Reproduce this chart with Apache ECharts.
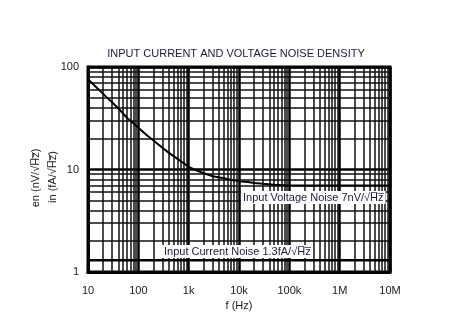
<!DOCTYPE html>
<html><head><meta charset="utf-8">
<script src="https://cdn.jsdelivr.net/npm/echarts@6/dist/echarts.min.js"></script>
<style>html,body{margin:0;padding:0;background:#fff}#c{width:472px;height:329px}</style>
</head><body><div id="c"></div>
<script>
const title = 'INPUT CURRENT AND VOLTAGE NOISE DENSITY';
const xTickLabels = {10:'10',100:'100',1000:'1k',10000:'10k',100000:'100k',1000000:'1M',10000000:'10M'};
const voltFreq = [10, 15, 20, 30, 40, 60, 80, 100, 150, 200, 300, 400, 600, 800, 1000, 1500, 2000, 3000, 5000, 7000, 10000, 15000, 20000, 30000, 50000, 100000, 10000000];
const voltNoise = [76, 62.7, 54.7, 45.2, 39.6, 31.8, 28.3, 25.6, 21.5, 19.2, 16.3, 14.6, 12.7, 11.5, 10.6, 9.7, 9.2, 8.6, 8.2, 7.9, 7.7, 7.55, 7.4, 7.25, 7.1, 7.0, 7.0];
const currFreq = [10, 10000000];
const currNoise = [1.3, 1.3];
const voltLabel = 'Input Voltage Noise 7nV/\u221AH\u0305z\u0305';
const currLabel = 'Input Current Noise 1.3fA/\u221AH\u0305z\u0305';
const yNameEn = 'en (nV/\u221AH\u0305z\u0305)';
const yNameIn = 'in (fA/\u221AH\u0305z\u0305)';

const xMinor = [], yMinor = [];
for (let d = 10; d < 1e7; d *= 10) for (let k = 2; k <= 9; k++) xMinor.push(d * k);
for (let d = 1; d < 100; d *= 10) for (let k = 2; k <= 9; k++) yMinor.push(d * k);

const font = '"Liberation Sans", Arial, sans-serif';
const chart = echarts.init(document.getElementById('c'), null, {renderer: 'canvas'});
chart.setOption({
  animation: false,
  title: {text: title, left: 'center', top: 43, textStyle: {fontFamily: font, fontSize: 11, fontWeight: 'normal', color: '#1a1a40'}},
  grid: {left: 88, right: 82, top: 67, bottom: 57, show: true, borderColor: '#000', borderWidth: 3, backgroundColor: 'transparent'},
  xAxis: {
    type: 'log', logBase: 10, min: 10, max: 1e7,
    name: 'f (Hz)', nameLocation: 'middle', nameGap: 27,
    nameTextStyle: {fontFamily: font, fontSize: 11, color: '#202020'},
    axisLine: {show: true, lineStyle: {color: '#000', width: 3}},
    axisTick: {show: false},
    axisLabel: {fontFamily: font, fontSize: 11, color: '#202020', margin: 13, formatter: v => xTickLabels[Math.round(v)] || ''},
    splitLine: {show: true, lineStyle: {color: '#000', width: 2.5}}
  },
  yAxis: {
    type: 'log', logBase: 10, min: 1, max: 100,
    axisLine: {show: true, lineStyle: {color: '#000', width: 3}},
    axisTick: {show: false},
    axisLabel: {fontFamily: font, fontSize: 11, color: '#202020', margin: 9},
    splitLine: {show: true, lineStyle: {color: '#000', width: 2.5}}
  },
  series: [
    {
      type: 'line', data: [], silent: true, z: 1,
      markLine: {
        silent: true, symbol: ['none', 'none'], animation: false,
        label: {show: false},
        lineStyle: {color: '#111', width: 1.5, type: 'solid'},
        emphasis: {disabled: true},
        data: xMinor.map(v => ({xAxis: v})).concat(yMinor.map(v => ({yAxis: v})))
      }
    },
    {
      type: 'line', z: 5, symbol: 'none',
      lineStyle: {color: '#000', width: 2},
      data: voltFreq.map((f, i) => [f, voltNoise[i]])
    },
    {
      type: 'line', z: 5, symbol: 'none',
      lineStyle: {color: '#000', width: 2.5},
      data: currFreq.map((f, i) => [f, currNoise[i]])
    }
  ],
  graphic: [
    {type: 'text', left: 241, top: 191, z: 100, style: {text: voltLabel, font: '11px ' + font, fill: '#1a1a40', backgroundColor: '#fff', padding: [1, 2, 1, 2]}},
    {type: 'text', left: 162, top: 245, z: 100, style: {text: currLabel, font: '11px ' + font, fill: '#1a1a40', backgroundColor: '#fff', padding: [1, 2, 1, 2]}},
    {type: 'text', x: 36, y: 178, rotation: Math.PI / 2, z: 100, style: {text: yNameEn, font: '11px ' + font, fill: '#202020', align: 'center', verticalAlign: 'middle'}},
    {type: 'text', x: 53, y: 177, rotation: Math.PI / 2, z: 100, style: {text: yNameIn, font: '11px ' + font, fill: '#202020', align: 'center', verticalAlign: 'middle'}}
  ]
});
</script></body></html>
